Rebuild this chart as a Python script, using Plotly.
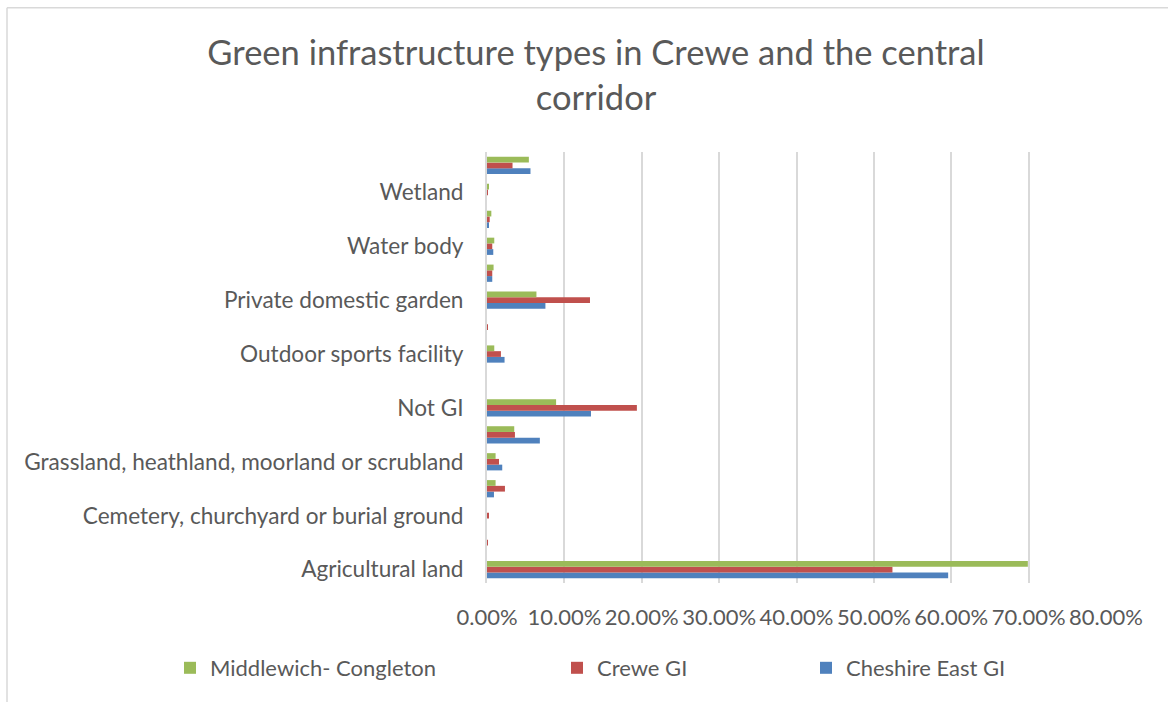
import plotly.graph_objects as go

# Green infrastructure categories (bottom to top on the chart)
categories = [
    "Agricultural land",
    "Allotment, community garden or urban farm",
    "Cemetery, churchyard or burial ground",
    "General amenity space",
    "Grassland, heathland, moorland or scrubland",
    "Institutional grounds",
    "Not GI",
    "Orchard",
    "Outdoor sports facility",
    "Play space",
    "Private domestic garden",
    "Road verge",
    "Water body",
    "Watercourse",
    "Wetland",
    "Woodland",
]

# Only every other category label is printed on the axis
shown_labels = [
    "Agricultural land",
    "Cemetery, churchyard or burial ground",
    "Grassland, heathland, moorland or scrubland",
    "Not GI",
    "Outdoor sports facility",
    "Private domestic garden",
    "Water body",
    "Wetland",
]

# Share of area (%) per category
middlewich_congleton = [69.9, 0, 0, 1.11, 1.11, 3.52, 8.93, 0, 0.94, 0, 6.39, 0.85, 0.94, 0.56, 0.15, 5.41]
crewe_gi = [52.4, 0.12, 0.2, 2.32, 1.55, 3.61, 19.37, 0, 1.80, 0.12, 13.31, 0.68, 0.68, 0.35, 0.12, 3.30]
cheshire_east_gi = [59.6, 0, 0, 0.90, 1.97, 6.83, 13.44, 0, 2.27, 0, 7.55, 0.68, 0.81, 0.22, 0, 5.62]

x_ticks = [0, 10, 20, 30, 40, 50, 60, 70, 80]
x_tick_text = [f"{v:.2f}%" for v in x_ticks]

W, H = 1168, 702
ML, MR, MT, MB = 487, 62, 151.5, 118.5
FONT = "Lato"
GREY = "#595959"
GRID = "#d9d9d9"

fig = go.Figure()

# Trace order gives blue at the bottom of each group, green on top
fig.add_trace(go.Bar(
    y=categories, x=cheshire_east_gi, orientation="h", name="Cheshire East GI",
    marker=dict(color="#4F81BD", line=dict(width=0)), legend="legend3",
))
fig.add_trace(go.Bar(
    y=categories, x=crewe_gi, orientation="h", name="Crewe GI",
    marker=dict(color="#C0504D", line=dict(width=0)), legend="legend2",
))
fig.add_trace(go.Bar(
    y=categories, x=middlewich_congleton, orientation="h", name="Middlewich- Congleton",
    marker=dict(color="#9BBB59", line=dict(width=0)), legend="legend",
))

legend_font = dict(family=FONT, size=22, color=GREY)
def legend_at(px):
    return dict(
        xref="container", yref="container",
        x=px / W, y=1 - 668 / H, xanchor="left", yanchor="middle",
        orientation="h", font=legend_font, bgcolor="rgba(0,0,0,0)",
        borderwidth=0, visible=True,
    )

# Outer chart frame (top and left edges visible)
plot_w = W - ML - MR
plot_h = H - MT - MB
def px_x(px):
    return (px - ML) / plot_w
def px_y(py):
    return (H - MB - py) / plot_h

frame = dict(color=GRID, width=1.5)
shapes = [
    dict(type="line", xref="paper", yref="paper",
         x0=px_x(7), x1=px_x(W + 10), y0=px_y(7), y1=px_y(7), line=frame),
    dict(type="line", xref="paper", yref="paper",
         x0=px_x(7), x1=px_x(7), y0=px_y(7), y1=px_y(H + 10), line=frame),
]

fig.update_layout(
    width=W, height=H,
    margin=dict(l=ML, r=MR, t=MT, b=MB),
    paper_bgcolor="white", plot_bgcolor="white",
    showlegend=True,
    barmode="group", bargap=0.36, bargroupgap=0,
    title=dict(
        text="Green infrastructure types in Crewe and the central<br>corridor",
        font=dict(family=FONT, size=34.5, color=GREY),
        xref="container", yref="container",
        x=596 / W, y=1 - 65 / H, xanchor="center", yanchor="top",
    ),
    legend=legend_at(170),
    legend2=legend_at(557),
    legend3=legend_at(806),
    shapes=shapes,
    xaxis=dict(
        range=[0, 80], tickmode="array", tickvals=x_ticks, ticktext=x_tick_text,
        showgrid=True, gridcolor=GRID, gridwidth=2, zeroline=False,
        showline=False, ticks="",
        tickfont=dict(family=FONT, size=22, color=GREY),
        ticklabelstandoff=19,
    ),
    yaxis=dict(
        type="category", categoryorder="array", categoryarray=categories,
        tickmode="array", tickvals=shown_labels, ticktext=shown_labels,
        showgrid=False, zeroline=False,
        showline=True, linecolor=GRID, linewidth=2, ticks="",
        tickfont=dict(family=FONT, size=22.6, color=GREY),
        ticklabelstandoff=17,
    ),
)

fig.write_html("out.html")
